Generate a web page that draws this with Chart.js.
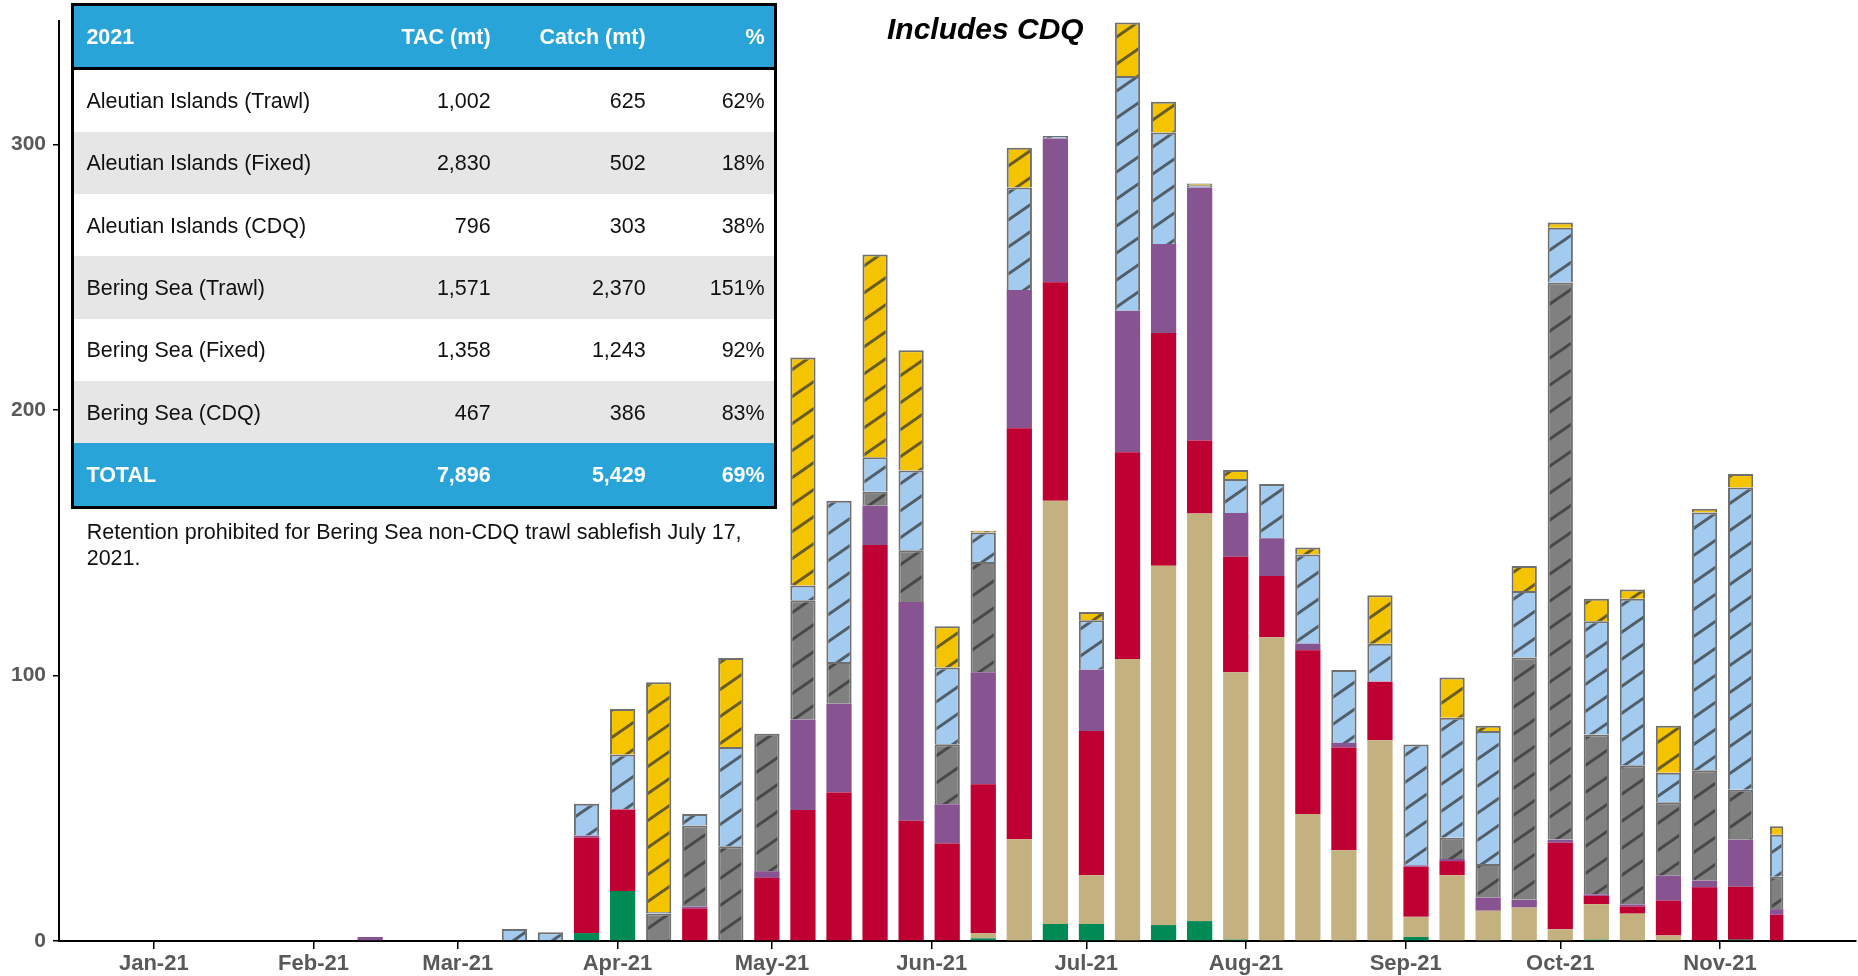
<!DOCTYPE html>
<html lang="en">
<head>
<meta charset="UTF-8">
<title>2021 Sablefish Catch by Week</title>
<style>
    html, body {
        margin: 0;
        padding: 0;
        background: #fff;
    }

    body {
        width: 1858px;
        height: 976px;
        position: relative;
        overflow: hidden;
        font-family: 'Liberation Sans', Arial, sans-serif;
    }

    .chart-container {
        position: absolute;
        left: 0;
        top: 0;
        width: 1858px;
        height: 976px;
    }

    .chart-title {
        position: absolute;
        left: 887px;
        top: 14px;
        font-size: 30px;
        font-weight: bold;
        font-style: italic;
        line-height: 1;
        color: #000;
        white-space: nowrap;
    }

    .summary {
        position: absolute;
        left: 71px;
        top: 2.5px;
        width: 706px;
        box-sizing: border-box;
        border: 3px solid #000;
        font-size: 21.5px;
        color: #111;
    }

    .summary .row {
        display: grid;
        grid-template-columns: 300px 116.7px 155px 1fr;
        align-items: center;
        height: 62.3px;
        padding-right: 9.3px;
    }

    .summary .row span { text-align: right; white-space: nowrap; padding-top: 2px; }
    .summary .row span:first-child { text-align: left; padding-left: 12.4px; }
    .summary .row.shaded { background: #e6e6e6; }

    .summary .row.head,
    .summary .row.total {
        background: #28a4d9;
        color: #fff;
        font-weight: bold;
    }

    .summary .row.head {
        height: 61px;
        border-bottom: 3px solid #000;
    }

    .note {
        position: absolute;
        left: 86.7px;
        top: 519px;
        width: 690px;
        font-size: 21.5px;
        line-height: 26px;
        color: #111;
    }
</style>
</head>
<body>

<div class="chart-container">
    <canvas id="catchChart"></canvas>
</div>
<div class="chart-title">Includes CDQ</div>
<div class="summary" id="summary"></div>
<div class="note">Retention prohibited for Bering Sea non-CDQ trawl sablefish July 17, 2021.</div>

<script src="https://cdn.jsdelivr.net/npm/chart.js"></script>
<script>
    // Week-ending dates of the weekly catch totals (mt)
    const weekEnding = [
        '2021-02-12', '2021-02-19', '2021-02-26', '2021-03-05', '2021-03-12',
        '2021-03-19', '2021-03-26', '2021-04-02', '2021-04-09', '2021-04-16',
        '2021-04-23', '2021-04-30', '2021-05-07', '2021-05-14', '2021-05-21',
        '2021-05-28', '2021-06-04', '2021-06-11', '2021-06-18', '2021-06-25',
        '2021-07-02', '2021-07-09', '2021-07-16', '2021-07-23', '2021-07-30',
        '2021-08-06', '2021-08-13', '2021-08-20', '2021-08-27', '2021-09-03',
        '2021-09-10', '2021-09-17', '2021-09-24', '2021-10-01', '2021-10-08',
        '2021-10-15', '2021-10-22', '2021-10-29', '2021-11-05', '2021-11-12'
    ];

    // Weekly catch by sector, bottom of the stack first
    const otherCatch = [
        0, 0, 0, 0, 0, 0, 3, 18.8, 0, 0,
        0, 0, 0, 0, 0, 0, 0, 1, 0, 6.4,
        6.4, 0, 6, 7.5, 0.5, 0, 0, 0, 0, 1.5,
        0, 0, 0, 0, 0.5, 0, 0, 0, 0.5, 0
    ];
    const bsTrawlCv = [
        0, 0, 0, 0, 0, 0, 0, 0, 0, 0,
        0, 0, 0, 0, 0, 0, 0, 2, 38.3, 159.4,
        18.4, 106.2, 135.3, 153.5, 100.7, 114.4, 47.8, 34.2, 75.6, 7.6,
        24.8, 11.4, 12.6, 4.4, 13.4, 10.3, 2.1, 0, 0, 0
    ];
    const bsTrawlCp = [
        0, 0, 0, 0, 0, 0, 36, 30.7, 0, 12.3,
        0, 23.8, 49.3, 55.9, 149.1, 45.3, 36.7, 56, 154.8, 82.3,
        54.3, 77.9, 87.7, 27.5, 43.5, 23.1, 61.7, 38.7, 22, 18.9,
        5.3, 0, 0, 32.6, 3.1, 2.7, 13.1, 20.2, 19.9, 9.9
    ];
    const aiTrawl = [
        1.5, 0, 0, 0, 0, 0, 0.7, 0, 0, 0.7,
        0, 2.5, 34.1, 33.5, 14.8, 82.4, 14.8, 42.2, 52.1, 54.1,
        23.1, 53.3, 33.5, 95.3, 16.5, 14.2, 2.5, 1.7, 0, 0.5,
        0.8, 5, 2.9, 1.2, 0.6, 0.8, 9.4, 2.5, 17.7, 2.1
    ];
    const bsPot = [
        0, 0, 0, 0, 0, 0, 0, 0, 10.4, 30.5,
        35.7, 51.8, 44.9, 15.7, 5.3, 19.5, 22.6, 41.5, 0, 0,
        0, 0, 0, 0, 0, 0, 0, 0, 0, 0,
        8, 12.6, 91.3, 209.8, 60.2, 52.4, 27.7, 41.6, 18.9, 12.2
    ];
    const bsLongline = [
        0, 0, 0, 0, 4.5, 3.3, 12, 20.7, 0.5, 4.3,
        37.4, 0, 5.6, 60.7, 13, 30, 28.9, 11.2, 38.6, 1,
        18.6, 88.4, 42, 0.8, 12.8, 20.4, 33.6, 27.5, 14.4, 45.5,
        45.2, 50.1, 25, 20.6, 42.6, 62.7, 11.1, 97.1, 113.8, 15.8
    ];
    const aiFixed = [
        0, 0, 0, 0, 0, 0, 0, 17.2, 86.6, 0,
        33.5, 0, 85.9, 0, 76.4, 45.3, 15.5, 0.6, 15, 0,
        3.1, 20.1, 11.6, 0.7, 3.4, 0, 2.6, 0, 18.2, 0,
        15.1, 2, 9.4, 2, 8.5, 3.5, 17.7, 1.3, 5.1, 3.2
    ];

    // Month ticks along the date axis
    const monthTickDates = [
        '2021-01-01', '2021-02-01', '2021-03-01', '2021-04-01', '2021-05-01', '2021-06-01',
        '2021-07-01', '2021-08-01', '2021-09-01', '2021-10-01', '2021-11-01'
    ];
    const monthLabels = [
        'Jan-21', 'Feb-21', 'Mar-21', 'Apr-21', 'May-21', 'Jun-21',
        'Jul-21', 'Aug-21', 'Sep-21', 'Oct-21', 'Nov-21'
    ];

    // Summary table
    const tableHeader = ['2021', 'TAC (mt)', 'Catch (mt)', '%'];
    const tableAreas = [
        'Aleutian Islands (Trawl)', 'Aleutian Islands (Fixed)', 'Aleutian Islands (CDQ)',
        'Bering Sea (Trawl)', 'Bering Sea (Fixed)', 'Bering Sea (CDQ)'
    ];
    const tableTac = ['1,002', '2,830', '796', '1,571', '1,358', '467'];
    const tableCatch = ['625', '502', '303', '2,370', '1,243', '386'];
    const tablePct = ['62%', '18%', '38%', '151%', '92%', '83%'];
    const tableTotal = ['TOTAL', '7,896', '5,429', '69%'];

    function addRow(cells, cls) {
        const row = document.createElement('div');
        row.className = 'row' + (cls ? ' ' + cls : '');
        cells.forEach(text => {
            const span = document.createElement('span');
            span.textContent = text;
            row.appendChild(span);
        });
        document.getElementById('summary').appendChild(row);
    }

    addRow(tableHeader, 'head');
    tableAreas.forEach((area, i) => {
        addRow([area, tableTac[i], tableCatch[i], tablePct[i]], i % 2 ? 'shaded' : '');
    });
    addRow(tableTotal, 'total');

    // Days since Jan 1 2021, used as the x value
    const yearStart = Date.UTC(2021, 0, 1);
    function dayOf(iso) {
        const [y, m, d] = iso.split('-').map(Number);
        return (Date.UTC(y, m - 1, d) - yearStart) / 86400000;
    }
    const weekDays = weekEnding.map(dayOf);
    const monthTickDays = monthTickDates.map(dayOf);

    // Diagonal hatch fill for the fixed gear series
    function hatch(base) {
        const w = 39, h = 27;
        const c = document.createElement('canvas');
        c.width = w;
        c.height = h;
        const g = c.getContext('2d');
        g.fillStyle = base;
        g.fillRect(0, 0, w, h);
        g.strokeStyle = 'rgba(50, 50, 50, 0.72)';
        g.lineWidth = 3;
        for (let k = -1; k <= 1; k++) {
            g.beginPath();
            g.moveTo(-w, h * (k + 2));
            g.lineTo(2 * w, h * (k - 1));
            g.stroke();
        }
        return g.createPattern(c, 'repeat');
    }

    function series(label, values, color, hatched) {
        return {
            label: label,
            data: values.map((v, i) => ({ x: weekDays[i], y: v })),
            backgroundColor: hatched ? hatch(color) : color,
            borderColor: 'rgba(55, 55, 55, 0.72)',
            borderWidth: hatched ? { top: 2, bottom: 0, left: 2, right: 2 } : 0,
            borderSkipped: false,
            barPercentage: 0.7,
            categoryPercentage: 1.0
        };
    }

    // The final week is only partly reported, so its bar is drawn narrower
    const partialWeekShare = 0.53;
    const partialWeekPlugin = {
        id: 'partialWeek',
        afterDatasetsUpdate(chart) {
            chart.data.datasets.forEach((ds, i) => {
                const bars = chart.getDatasetMeta(i).data;
                const last = bars[bars.length - 1];
                if (last) last.width *= partialWeekShare;
            });
        }
    };

    Chart.defaults.font.family = "'Liberation Sans', Arial, sans-serif";

    const config = {
        type: 'bar',
        data: {
            datasets: [
                series('Other', otherCatch, '#008a55', false),
                series('BS Trawl CV', bsTrawlCv, '#c3b180', false),
                series('BS Trawl CP', bsTrawlCp, '#bf0033', false),
                series('AI Trawl', aiTrawl, '#875491', false),
                series('BS Pot', bsPot, '#808080', true),
                series('BS Longline', bsLongline, '#a3cbf0', true),
                series('AI Fixed', aiFixed, '#f5c400', true)
            ]
        },
        options: {
            responsive: true,
            maintainAspectRatio: false,
            animation: false,
            events: [],
            layout: {
                padding: { top: 21, right: 2, left: 0, bottom: 0 }
            },
            plugins: {
                legend: { display: false },
                tooltip: { enabled: false }
            },
            scales: {
                x: {
                    type: 'linear',
                    stacked: true,
                    offset: false,
                    min: -18.4,
                    max: 330.4,
                    afterBuildTicks: function(scale) {
                        scale.ticks = monthTickDays.map(v => ({ value: v }));
                    },
                    afterFit: function(scale) {
                        scale.height = 35;
                    },
                    ticks: {
                        autoSkip: false,
                        maxRotation: 0,
                        padding: 2,
                        color: '#595959',
                        font: { size: 22, weight: 'bold' },
                        callback: function(value, index) {
                            return monthLabels[index];
                        }
                    },
                    grid: {
                        offset: false,
                        drawOnChartArea: false,
                        drawTicks: true,
                        tickLength: 8,
                        color: '#000',
                        lineWidth: 1.5
                    },
                    border: { color: '#000', width: 2 }
                },
                y: {
                    stacked: true,
                    min: 0,
                    max: 346.5,
                    afterFit: function(scale) {
                        scale.width = 59;
                    },
                    ticks: {
                        stepSize: 100,
                        includeBounds: false,
                        padding: 7,
                        color: '#595959',
                        font: { size: 21, weight: 'bold' }
                    },
                    grid: {
                        drawOnChartArea: false,
                        drawTicks: true,
                        tickLength: 6,
                        color: '#000',
                        lineWidth: 1.5
                    },
                    border: { color: '#000', width: 2 }
                }
            }
        },
        plugins: [partialWeekPlugin]
    };

    const catchChart = new Chart(document.getElementById('catchChart'), config);
</script>

</body>
</html>
